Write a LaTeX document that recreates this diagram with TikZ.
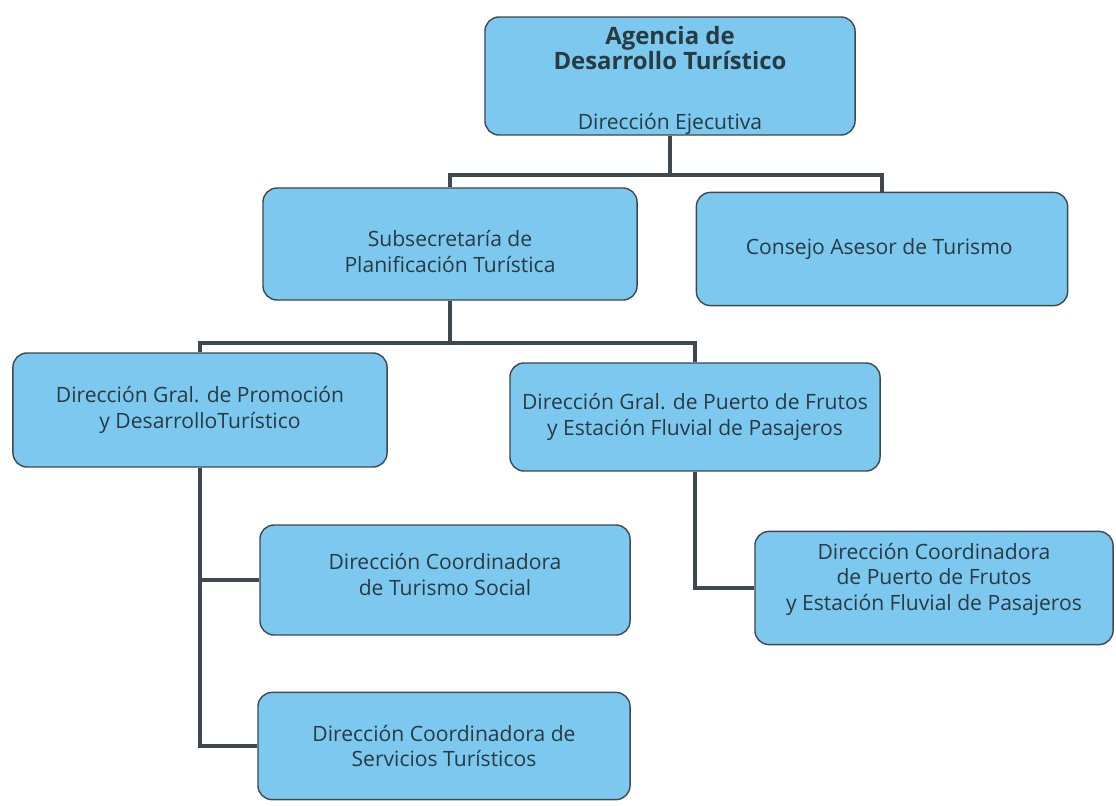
\documentclass[tikz,border=0pt]{standalone}
\usepackage{fontspec}
\setmainfont{Open Sans}
\usetikzlibrary{positioning}
\definecolor{cajaazul}{RGB}{124,200,238}
\definecolor{borde}{RGB}{62,72,78}
\definecolor{texto}{RGB}{40,58,66}
\newcommand{\titulo}{\fontsize{17}{20}\selectfont\bfseries}

\begin{document}
\begin{tikzpicture}[x=0.025cm, y=-0.025cm,
  caja/.style={rectangle, draw=borde, line width=1pt, fill=cajaazul, rounded corners=10pt, align=center, text=texto, font=\fontsize{15}{18}\selectfont, inner sep=0pt},
  linea/.style={draw=borde, line width=2.2pt}]
  \useasboundingbox (0,0) rectangle (1116,805);

  \node[caja, minimum width=9.25cm, minimum height=2.95cm] (agencia) at (670,76) {
    \mbox{}\\[1pt]
    \titulo Agencia de\\\titulo Desarrollo Turístico\\[24pt]
    Dirección Ejecutiva
  };
  \node[caja, minimum width=9.35cm, minimum height=2.8cm] (subsec) at (450,244) {
    \mbox{}\\[4pt]
    Subsecretaría de\\Planificación Turística
  };
  \node[caja, minimum width=9.28cm, minimum height=2.83cm] (consejo) at (882,249) {
    Consejo Asesor de Turismo
  };
  \node[caja, minimum width=9.35cm, minimum height=2.85cm] (promo) at (200,410) {
    Dirección Gral. de Promoción\\y DesarrolloTurístico
  };
  \node[caja, minimum width=9.25cm, minimum height=2.7cm] (puerto) at (695,417) {
    Dirección Gral. de Puerto de Frutos\\y Estación Fluvial de Pasajeros
  };
  \node[caja, minimum width=9.25cm, minimum height=2.75cm] (social) at (445,580) {
    Dirección Coordinadora\\de Turismo Social\\[-10pt]\mbox{}
  };
  \node[caja, minimum width=9.3cm, minimum height=2.68cm] (servicios) at (444,746) {
    Dirección Coordinadora de\\Servicios Turísticos
  };
  \node[caja, minimum width=8.95cm, minimum height=2.83cm] (coordpuerto) at (934,588) {
    Dirección Coordinadora\\de Puerto de Frutos\\y Estación Fluvial de Pasajeros\\[-2pt]\mbox{}
  };

  % conectores
  \coordinate (b1) at (670,175);
  \coordinate (b2) at (450,343);
  \draw[linea] (agencia.south) -- (b1);
  \draw[linea] (subsec.north) |- (b1) -| (consejo.north);
  \draw[linea] (subsec.south) -- (b2);
  \draw[linea] (promo.north) |- (b2) -| (puerto.north);
  \draw[linea] (promo.south) |- (social.west);
  \draw[linea] (promo.south) |- (servicios.west);
  \draw[linea] (puerto.south) |- (coordpuerto.west);
\end{tikzpicture}
\end{document}
